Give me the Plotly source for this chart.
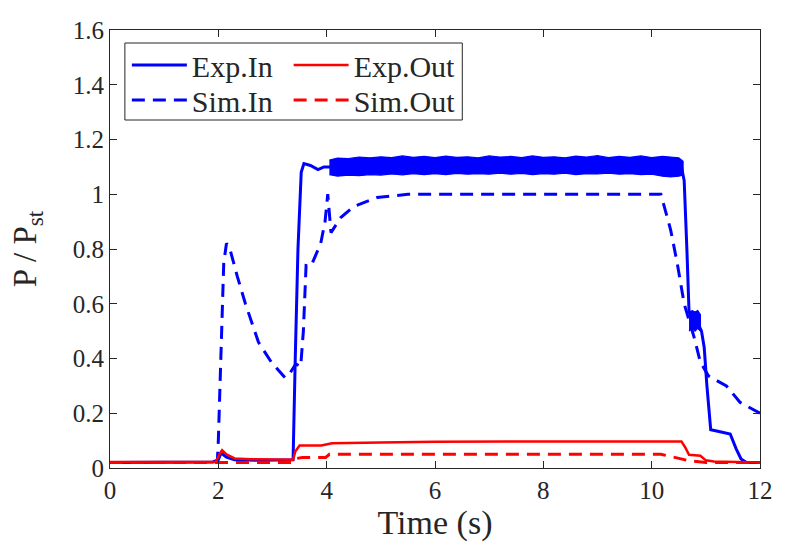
import plotly.graph_objects as go

FONT = "Liberation Serif"

# ---- Data ----
exp_in_t = [0, 0.3, 1.0, 1.9, 2.0, 2.05, 2.15, 2.3, 2.8, 3.3, 3.38, 3.42, 3.47, 3.53, 3.58,
            3.7, 3.84, 3.95, 4.05, 5.0, 6.0, 7.0, 8.0, 9.0, 10.0, 10.55, 10.6, 10.65, 10.69,
            10.75, 10.85, 10.92, 10.97, 11.02, 11.09, 11.2, 11.35, 11.45, 11.56, 11.65, 11.75, 12.0]
exp_in_y = [0.02, 0.02, 0.02, 0.022, 0.03, 0.055, 0.04, 0.03, 0.028, 0.03, 0.03, 0.4, 0.8, 1.08, 1.112,
            1.105, 1.09, 1.1, 1.1, 1.1, 1.1, 1.105, 1.105, 1.105, 1.105, 1.1, 1.05, 0.8, 0.57,
            0.55, 0.53, 0.5, 0.44, 0.3, 0.14, 0.135, 0.13, 0.124, 0.07, 0.033, 0.02, 0.02]

# noisy envelope of Exp.In (plateau and short step)
band1_t = [4.05, 4.2, 4.4, 4.6, 4.8, 5.0, 5.2, 5.4, 5.6, 5.8, 6.0, 6.2, 6.4, 6.6, 6.8, 7.0,
           7.2, 7.4, 7.6, 7.8, 8.0, 8.2, 8.4, 8.6, 8.8, 9.0, 9.2, 9.4, 9.6, 9.8, 10.0,
           10.2, 10.35, 10.5, 10.58]
band1_hi = [1.125, 1.132, 1.13, 1.136, 1.133, 1.137, 1.134, 1.14, 1.135, 1.138, 1.134, 1.139,
            1.135, 1.137, 1.133, 1.14, 1.136, 1.138, 1.134, 1.14, 1.135, 1.137, 1.133, 1.139,
            1.136, 1.141, 1.134, 1.138, 1.135, 1.14, 1.134, 1.138, 1.136, 1.133, 1.12]
band1_lo = [1.072, 1.066, 1.07, 1.068, 1.072, 1.07, 1.074, 1.071, 1.075, 1.072, 1.075, 1.072,
            1.076, 1.073, 1.075, 1.073, 1.077, 1.073, 1.076, 1.072, 1.075, 1.073, 1.077, 1.072,
            1.075, 1.074, 1.077, 1.073, 1.075, 1.072, 1.073, 1.066, 1.063, 1.066, 1.07]
band2_t = [10.69, 10.75, 10.8, 10.85, 10.9]
band2_hi = [0.57, 0.575, 0.57, 0.575, 0.56]
band2_lo = [0.5, 0.51, 0.5, 0.51, 0.5]

sim_in_t = [0, 1.98, 2.0, 2.05, 2.1, 2.15, 2.2, 2.35, 2.5, 2.74, 2.98, 3.23, 3.3, 3.43, 3.52,
            3.57, 3.62, 3.71, 3.89, 3.97, 4.02, 4.08, 4.15, 4.26, 4.5, 4.93, 5.5, 6.5, 8.0,
            10.17, 10.35, 10.47, 10.6, 10.78, 10.9, 11.05, 11.38, 11.63, 12.0]
sim_in_y = [0.02, 0.02, 0.1, 0.45, 0.75, 0.82, 0.81, 0.7, 0.6, 0.46, 0.386, 0.33, 0.34, 0.38, 0.37,
            0.5, 0.74, 0.737, 0.82, 0.9, 1.0, 0.86, 0.88, 0.915, 0.955, 0.988, 1.0, 1.0, 1.0,
            1.0, 0.87, 0.75, 0.6, 0.48, 0.386, 0.336, 0.3, 0.24, 0.2]

exp_out_t = [0, 1.95, 2.02, 2.07, 2.15, 2.3, 2.6, 3.0, 3.38, 3.42, 3.5, 3.9, 4.1, 5.0, 6.0, 8.0,
             10.55, 10.62, 10.69, 10.9, 11.0, 11.15, 11.5, 12.0]
exp_out_y = [0.022, 0.022, 0.05, 0.065, 0.05, 0.035, 0.032, 0.03, 0.03, 0.06, 0.082, 0.082, 0.09,
             0.093, 0.096, 0.097, 0.097, 0.075, 0.048, 0.045, 0.028, 0.024, 0.022, 0.02]

sim_out_t = [0, 3.38, 3.45, 3.55, 3.98, 4.05, 4.2, 10.17, 10.4, 10.7, 11.0, 12.0]
sim_out_y = [0.02, 0.02, 0.035, 0.038, 0.038, 0.05, 0.05, 0.05, 0.04, 0.026, 0.02, 0.02]

BLUE = "#0000FF"
RED = "#FF0000"
INK = "#262626"

fig = go.Figure()

# envelopes of the noisy experimental signal
for bt, bh, bl in [(band1_t, band1_hi, band1_lo), (band2_t, band2_hi, band2_lo)]:
    fig.add_trace(go.Scatter(
        x=bt + bt[::-1], y=bh + bl[::-1], fill="toself", mode="lines",
        line=dict(color=BLUE, width=1.2), fillcolor=BLUE,
        showlegend=False, hoverinfo="skip"))

fig.add_trace(go.Scatter(x=exp_in_t, y=exp_in_y, mode="lines", name="Exp.In",
                         line=dict(color=BLUE, width=3), legend="legend"))
fig.add_trace(go.Scatter(x=sim_in_t, y=sim_in_y, mode="lines", name="Sim.In",
                         line=dict(color=BLUE, width=3, dash="13px,8px"), legend="legend3"))
fig.add_trace(go.Scatter(x=exp_out_t, y=exp_out_y, mode="lines", name="Exp.Out",
                         line=dict(color=RED, width=2.5), legend="legend2"))
fig.add_trace(go.Scatter(x=sim_out_t, y=sim_out_y, mode="lines", name="Sim.Out",
                         line=dict(color=RED, width=3, dash="13px,8px"), legend="legend4"))

axis_common = dict(showgrid=False, zeroline=False, showline=True, linecolor=INK,
                   linewidth=1, mirror="ticks", ticks="inside", ticklen=7,
                   tickcolor=INK, tickfont=dict(family=FONT, size=25, color=INK))


def leg(xpx, ycpx):
    return dict(x=(xpx - 110) / 655, y=(468 - ycpx) / 438, xanchor="left", yanchor="middle",
                bgcolor="rgba(0,0,0,0)", borderwidth=0,
                font=dict(family=FONT, size=30, color=INK), itemwidth=55)


fig.update_layout(
    width=785, height=552,
    margin=dict(l=110, r=20, t=30, b=84),
    paper_bgcolor="white", plot_bgcolor="white",
    font=dict(family=FONT, color=INK),
    xaxis=dict(range=[0, 12], dtick=2, tick0=0,
               title=dict(text="Time (s)", font=dict(family=FONT, size=34), standoff=6),
               **axis_common),
    yaxis=dict(range=[0, 1.6], dtick=0.2, tick0=0,
               title=dict(text="P / P<sub>st</sub>", font=dict(family=FONT, size=33), standoff=26),
               **axis_common),
    legend=leg(127, 65),
    legend3=leg(127, 100),
    legend2=leg(290, 65),
    legend4=leg(290, 100),
    shapes=[dict(type="rect", xref="paper", yref="paper",
                 x0=(125 - 110) / 655, x1=(465 - 110) / 655,
                 y0=(468 - 120) / 438, y1=(468 - 43) / 438,
                 line=dict(color=INK, width=1), fillcolor="white", layer="below")],
)

fig.write_html("out.html")
